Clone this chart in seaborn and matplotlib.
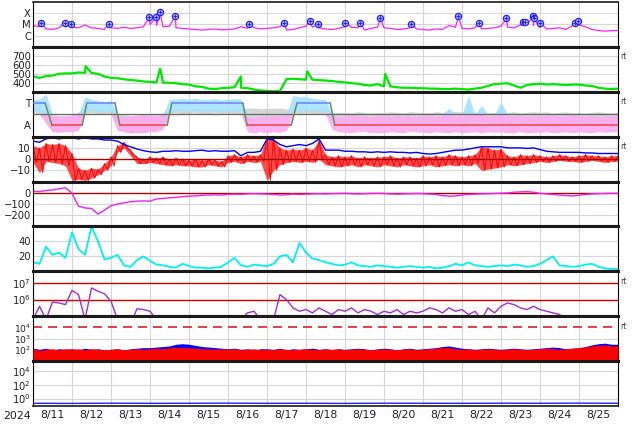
import numpy as np
import matplotlib
matplotlib.use('Agg')
import matplotlib.pyplot as plt
from matplotlib.ticker import NullLocator
import seaborn as sns

sns.set_theme(style='white')
plt.rcParams['font.family'] = ['DejaVu Sans']

# time grid: days since 2024-08-11 00:00, every 4 hours
t = np.arange(91) / 6.0
day_labels = ['8/11', '8/12', '8/13', '8/14', '8/15', '8/16', '8/17', '8/18',
              '8/19', '8/20', '8/21', '8/22', '8/23', '8/24', '8/25']

# X-ray flux (log10 W/m2) background and flare peaks
xray_log = [-5.10, -5.20, -5.40, -5.45, -5.30, -5.22,
            -5.25, -5.30, -5.05, -5.30, -5.35, -5.45,
            -5.30, -5.35, -5.25, -5.35, -5.30, -5.20,
            -5.00, -5.10, -5.20, -5.15, -5.30, -5.35,
            -5.40, -5.45, -5.50, -5.45, -5.40, -5.48,
            -5.45, -5.40, -5.20, -5.35, -5.30, -5.40,
            -5.35, -5.30, -5.20, -5.50, -5.45, -5.30,
            -5.15, -5.25, -5.30, -5.40, -5.45, -5.35,
            -5.20, -5.25, -5.30, -5.50, -5.35, -5.25,
            -5.30, -5.35, -5.45, -5.40, -5.30, -5.40,
            -5.45, -5.50, -5.40, -5.45, -5.10, -5.25,
            -5.35, -5.40, -5.30, -5.40, -5.35, -5.30,
            -5.15, -5.25, -5.30, -5.05, -5.00, -5.10,
            -5.30, -5.40, -5.35, -5.30, -5.45, -5.10,
            -5.05, -5.20, -5.45, -5.55, -5.60, -5.55, -5.55]
flare_t = [0.21, 0.83, 0.98, 1.96, 2.98, 3.16, 3.26, 3.65, 5.55, 6.44, 7.09, 7.32, 8.01,
           8.39, 8.91, 9.70, 10.91, 11.44, 12.14, 12.57, 12.62, 12.83, 12.84, 13.01,
           13.90, 13.98]
flare_log = [-4.83, -4.83, -4.92, -4.92, -4.38, -4.38, -3.93, -4.26, -4.92, -4.83, -4.65,
             -4.92, -4.83, -4.83, -4.47, -4.92, -4.26, -4.83, -4.47, -4.77, -4.77, -4.26,
             -4.47, -4.83, -4.83, -4.71]

# solar wind speed (km/s)
speed = [470, 455, 475, 480, 500, 505,
         505, 515, 510, 510, 500, 470,
         455, 450, 440, 430, 425, 415,
         410, 405, 402, 400, 395, 385,
         380, 360, 355, 335, 330, 340,
         345, 350, 345, 340, 325, 315,
         310, 305, 310, 440, 445, 440,
         435, 435, 430, 425, 420, 410,
         405, 395, 390, 375, 370, 385,
         360, 360, 350, 345, 345, 340,
         340, 335, 335, 330, 330, 335,
         330, 325, 335, 345, 365, 385,
         390, 395, 370, 345, 375, 385,
         390, 380, 385, 380, 375, 380,
         380, 370, 365, 345, 335, 330, 335]
speed_spike_t = [1.35, 3.26, 5.33, 7.03, 9.03]
speed_spike_v = [585, 558, 470, 528, 500]

# IMF direction (deg): envelope of main data and of secondary (grey) data
phi_lo = [210, 200, 120, 40, 35, 40, 40, 50, 200, 210, 205, 200,
          200, 50, 40, 30, 35, 30, 40, 40, 60, 200, 210, 205,
          205, 210, 200, 210, 205, 200, 210, 205, 195, 40, 30, 40,
          30, 40, 35, 50, 210, 205, 210, 205, 210, 200, 60, 40,
          35, 30, 40, 45, 30, 35, 30, 40, 35, 30, 45, 40,
          35, 30, 40, 35, 30, 40, 30, 35, 40, 30, 40, 35,
          40, 30, 35, 40, 30, 35, 35, 40, 30, 35, 40, 30,
          40, 35, 30, 40, 35, 40, 40]
phi_hi = [300, 300, 340, 170, 160, 165, 170, 180, 320, 300, 290, 280,
          290, 170, 160, 165, 170, 175, 170, 165, 175, 300, 300, 310,
          300, 310, 295, 300, 305, 295, 300, 305, 300, 160, 150, 165,
          160, 170, 165, 175, 330, 320, 320, 310, 300, 300, 170, 160,
          160, 175, 165, 170, 160, 170, 170, 160, 175, 165, 170, 160,
          165, 170, 160, 175, 230, 165, 170, 330, 175, 250, 165, 170,
          280, 170, 165, 175, 160, 170, 165, 170, 175, 165, 170, 175,
          170, 165, 170, 160, 165, 170, 165]
phi2_lo = [190, 185, 100, 40, 40, 45, 50, 60, 185, 190, 185, 180,
           180, 60, 40, 30, 30, 40, 50, 50, 80, 185, 190, 185,
           185, 190, 180, 185, 190, 185, 185, 185, 180, 120, 130, 130,
           130, 130, 140, 140, 190, 185, 190, 185, 185, 180, 120, 115,
           115, 120, 110, 120, 115, 110, 110, 115, 120, 110, 115, 120,
           115, 110, 120, 115, 110, 100, 20, 110, 115, 120, 110, 115,
           110, 115, 20, 110, 120, 115, 115, 110, 115, 120, 110, 115,
           110, 115, 120, 110, 115, 115, 115]
phi2_hi = [230, 230, 200, 175, 170, 170, 175, 200, 230, 225, 225, 220,
           215, 190, 180, 170, 175, 180, 180, 175, 190, 220, 225, 220,
           225, 220, 225, 220, 225, 220, 225, 225, 220, 230, 230, 225,
           225, 230, 230, 220, 225, 220, 225, 220, 225, 220, 195, 195,
           195, 190, 200, 195, 190, 195, 190, 200, 195, 190, 200, 195,
           195, 190, 200, 195, 210, 200, 200, 210, 195, 200, 190, 195,
           200, 195, 200, 190, 195, 200, 195, 200, 190, 195, 200, 190,
           195, 190, 195, 200, 195, 190, 195]
sector_t = [0, 0.31, 0.49, 1.26, 1.38, 2.10, 2.23, 3.44, 3.56, 5.38, 5.49, 6.62, 6.77,
            7.62, 7.74, 15]
sector_s = ['T', 'T', 'A', 'A', 'T', 'T', 'A', 'A', 'T', 'T', 'A', 'A', 'T', 'T', 'A', 'A']

# IMF Bt and Bz (nT); Bz given as the high / low reading of each 4-hour bin
bt = [16, 15, 18, 19, 18, 19, 19, 18, 19, 18, 18, 17,
      17, 16, 13, 11, 9, 7.5, 6.5, 6, 7, 7, 7.5, 7,
      7, 7.5, 8, 7, 7.5, 7, 7, 7.5, 3, 6, 6, 7,
      18, 17, 13, 11, 12, 13, 12, 14, 18, 8, 8, 8,
      7, 7, 6.5, 6.5, 6, 6.5, 6, 6.5, 6, 6, 5.5, 6,
      5, 4.5, 5, 6, 7, 8, 8, 9, 10, 11, 11, 11,
      11, 10, 10, 10, 9.5, 10, 8.5, 7, 6.5, 6, 6, 6,
      6, 5.5, 5.5, 5, 5, 5, 5]
bz_lo = [-3, -12, -2, -3, -4, -6, -19, -18, -19, -17, -14, -10,
         -6, 6, 10, 3, -4, -4, -3, -4, -5, -6, -5, -6,
         -6, -7, -7, -5, -6, -7, -3, -2, -4, -2, -3, -2,
         -19, -10, -5, -3, -2, -3, -2, -3, 0, -5, -6, -7,
         -6, -5, -7, -5, -6, -7, -5, -6, -7, -5, -6, -7,
         -6, -5, -7, -6, -5, -6, -5, -6, -4, -10, -9, -8,
         -7, -5, -6, -5, -4, -3, -2, -3, -2, -1, -2, -2,
         -3, -2, -1, -2, -3, -2, -2]
bz_hi = [12, 10, 14, 13, 14, 12, 5, -8, -10, -8, -9, -4,
         2, 12, 15, 8, 2, 0, 2, 1, 2, 0, 1, 0,
         -1, 0, -1, 0, -1, -2, 3, 4, 2, 4, 3, 4,
         20, 18, 10, 8, 9, 8, 10, 8, 17, 4, 2, 3,
         2, 3, 1, 2, 1, 2, 2, 3, 1, 2, 2, 1,
         3, 2, 3, 2, 4, 3, 2, 3, 4, 11, 10, 8,
         9, 3, 2, 4, 3, 4, 3, 2, 3, 4, 3, 2,
         3, 4, 3, 3, 2, 3, 3]

# Dst (nT)
dst = [15, 10, 20, 25, 35, 45, -5, -120, -135, -140, -190, -155,
       -115, -100, -90, -80, -75, -72, -75, -55, -50, -45, -40, -35,
       -30, -28, -22, -20, -18, -20, -15, -12, -14, -10, -8, -10,
       -12, -15, -20, -18, -12, -15, -12, -10, -8, -10, -8, -6,
       -5, -8, -10, -8, -6, -5, -6, -10, -12, -10, -8, -6,
       -8, -12, -15, -25, -30, -28, -20, -15, -12, -10, -8, -6,
       -4, -2, 5, 8, 10, 5, -5, -10, -15, -20, -25, -28,
       -22, -15, -10, -8, -6, -5, -5]

# solar wind density (/cc)
dens = [12, 10, 33, 22, 25, 18, 52, 30, 22, 60, 40, 16,
        18, 22, 8, 6, 15, 20, 14, 9, 8, 6, 5, 10,
        7, 5, 5, 4, 5, 6, 12, 18, 8, 6, 9, 8,
        7, 10, 20, 22, 12, 38, 25, 17, 15, 12, 10, 8,
        9, 12, 8, 7, 6, 8, 7, 6, 5, 6, 7, 6,
        5, 6, 4, 5, 7, 10, 8, 12, 8, 7, 6, 7,
        8, 7, 9, 8, 6, 7, 10, 15, 20, 8, 7, 6,
        7, 9, 10, 6, 4, 3, 3]

# GEO electron flux (log10)
elec_log = [4.8, 5.6, 4.8, 5.85, 5.8, 5.7, 6.55, 6.3, 4.8, 6.7, 6.5, 6.35,
            5.9, 4.8, 4.5, 4.5, 5.45, 5.4, 5.3, 4.8, 4.5, 4.5, 4.5, 4.8,
            4.5, 4.5, 4.8, 4.5, 4.5, 4.5, 4.5, 4.5, 4.8, 5.2, 5.3, 4.8,
            4.5, 4.8, 6.3, 6.0, 5.5, 5.3, 5.4, 5.2, 5.5, 5.3, 5.1, 5.4,
            5.3, 5.5, 5.2, 5.4, 5.3, 5.1, 5.3, 5.2, 5.4, 5.1, 5.3, 5.2,
            5.3, 5.5, 5.4, 5.2, 5.5, 5.3, 5.4, 5.1, 5.3, 4.8, 5.5, 5.2,
            5.6, 5.8, 5.7, 5.5, 5.4, 5.6, 5.4, 5.3, 5.2, 5.1, 4.8, 4.5,
            4.8, 4.5, 4.5, 4.5, 4.5, 4.5, 4.5]

# GEO proton flux (log10), two channels
prot_blue = [2.15, 2.05, 2.15, 2.0, 2.1, 2.05, 2.1, 2.0, 2.15, 2.05, 2.1, 2.0,
             2.05, 2.1, 2.0, 2.1, 2.15, 2.2, 2.2, 2.25, 2.3, 2.35, 2.5, 2.55,
             2.5, 2.4, 2.3, 2.25, 2.2, 2.15, 2.1, 2.15, 2.05, 2.1, 2.0, 2.1,
             2.1, 2.05, 2.15, 2.0, 2.1, 2.05, 2.1, 2.15, 2.05, 2.1, 2.0, 2.1,
             2.05, 2.1, 2.15, 2.1, 2.0, 2.1, 2.15, 2.1, 2.0, 2.1, 2.15, 2.05,
             2.1, 2.15, 2.2, 2.3, 2.35, 2.25, 2.15, 2.1, 2.05, 2.1, 2.15, 2.1,
             2.05, 2.1, 2.15, 2.1, 2.05, 2.1, 2.15, 2.2, 2.25, 2.2, 2.1, 2.15,
             2.2, 2.3, 2.45, 2.55, 2.6, 2.5, 2.5]
prot_red = [2.1, 1.95, 2.05, 2.1, 2.0, 2.1, 2.05, 2.1, 2.0, 2.1, 2.05, 2.0,
            2.05, 2.1, 2.0, 2.05, 2.1, 2.05, 2.1, 2.15, 2.1, 2.2, 2.25, 2.2,
            2.2, 2.15, 2.1, 2.1, 2.05, 2.1, 2.05, 2.1, 2.0, 2.05, 2.1, 2.0,
            2.05, 2.0, 2.1, 2.05, 2.0, 2.05, 2.1, 2.05, 2.0, 2.1, 2.05, 2.1,
            2.0, 2.05, 2.1, 2.05, 2.0, 2.05, 2.1, 2.05, 2.0, 2.05, 2.1, 2.0,
            2.05, 2.1, 2.15, 2.2, 2.2, 2.1, 2.05, 2.1, 2.0, 2.05, 2.1, 2.05,
            2.0, 2.05, 2.1, 2.05, 2.0, 2.05, 2.1, 2.15, 2.1, 2.05, 2.1, 2.15,
            2.2, 2.25, 2.35, 2.4, 2.45, 2.35, 2.35]

# bottom panel (log10), daily
low_t = np.arange(16)
low_log = [-0.70, -0.72, -0.69, -0.71, -0.70, -0.68, -0.71, -0.70,
           -0.72, -0.69, -0.70, -0.71, -0.69, -0.70, -0.68, -0.70]

GRID = '#d6d6d6'
FS = 7.2

fig = plt.figure(figsize=(6.34, 4.24), dpi=100)
axes = fig.subplots(9, 1, sharex=True)
fig.subplots_adjust(left=33 / 634, right=618 / 634, top=1 - 2 / 424, bottom=1 - 406 / 424,
                    hspace=0)


def style(ax, ylim, ticks, labels=None, grid=None, log=False, fs=FS):
    if log:
        ax.set_yscale('log')
    ax.set_ylim(*ylim)
    ax.set_yticks(ticks)
    if labels is not None:
        ax.set_yticklabels(labels)
    ax.yaxis.set_minor_locator(NullLocator())
    for y in (ticks if grid is None else grid):
        ax.axhline(y, color=GRID, lw=0.8, zorder=0)
    for d in range(16):
        ax.axvline(d, color=GRID, lw=0.8, zorder=0)
    ax.tick_params(axis='y', length=0, labelsize=fs, pad=1.5, colors='#222222')
    ax.tick_params(axis='x', which='both', length=0)
    for s in ('left', 'right'):
        ax.spines[s].set_linewidth(0.8)
        ax.spines[s].set_color('black')
    for s in ('top', 'bottom'):
        ax.spines[s].set_linewidth(2.2)
        ax.spines[s].set_color('#1a1a1a')


def rt(ax):
    ax.text(1.004, 0.78, 'rt', transform=ax.transAxes, fontsize=5.5, color='#444444',
            ha='left', va='center')


# 1: X-ray
ax = axes[0]
xt = np.concatenate([t, flare_t])
xv = 10 ** np.concatenate([xray_log, flare_log])
sns.lineplot(x=xt, y=xv, ax=ax, color='#ff22ff', lw=0.9, estimator=None, sort=True)
ax.scatter(flare_t, 10 ** np.array(flare_log), s=20, facecolor='#b8b8ff',
           edgecolor='#2222ff', linewidth=0.9, zorder=4)
ax.scatter(flare_t, 10 ** np.array(flare_log), s=8, marker='+', color='#2222ff',
           linewidth=0.7, zorder=5)
style(ax, (1e-7, 1e-3), [1e-4, 1e-5, 1e-6], ['X', 'M', 'C'], log=True)
ax.spines['top'].set_linewidth(1.2)

# 2: solar wind speed
ax = axes[1]
st = np.concatenate([t, speed_spike_t])
sv = np.concatenate([speed, speed_spike_v])
sns.lineplot(x=st, y=sv, ax=ax, color='#00e600', lw=1.6, estimator=None, sort=True)
style(ax, (300, 800), [400, 500, 600, 700])
rt(ax)

# 3: IMF direction / sector
ax = axes[2]
lo, hi = np.array(phi2_lo), np.array(phi2_hi)
ax.fill_between(t, lo, hi, color='#c4c4c4', lw=0, alpha=0.7, zorder=1)
lo, hi = np.array(phi_lo), np.array(phi_hi)
ax.fill_between(t, np.clip(lo, 180, None), np.clip(hi, 180, None), color='#a4e2ff',
                lw=0, alpha=0.9, zorder=2)
ax.fill_between(t, np.clip(lo, None, 180), np.clip(hi, None, 180), color='#ffaaf0',
                lw=0, alpha=0.9, zorder=2)
ax.axhline(180, color='#666666', lw=0.9, zorder=3)
sec_v = [270 if s == 'T' else 90 for s in sector_s]
for i in range(len(sector_t) - 1):
    if sector_s[i] == sector_s[i + 1]:
        c = '#6f7fff' if sector_s[i] == 'T' else '#ee4444'
    else:
        c = '#5f8f5f'
    ax.plot(sector_t[i:i + 2], sec_v[i:i + 2], color=c, lw=1.1, zorder=4)
style(ax, (0, 360), [270, 90], ['T', 'A'], grid=[])
rt(ax)

# 4: Bt / Bz
ax = axes[3]
ax.fill_between(t, bz_lo, bz_hi, color='#ff1010', lw=0, alpha=0.75, zorder=2)
bz_t = np.column_stack([t, t + 1 / 12]).ravel()
bz_v = np.column_stack([bz_hi, bz_lo]).ravel()
sns.lineplot(x=bz_t, y=bz_v, ax=ax, color='#ff0000', lw=0.7, estimator=None, sort=False)
sns.lineplot(x=t, y=bt, ax=ax, color='#0000ff', lw=1.0, estimator=None)
ax.axhline(0, color='#aa0000', lw=1.0, zorder=3)
style(ax, (-20, 20), [10, 0, -10], grid=[10, -10])
rt(ax)

# 5: Dst
ax = axes[4]
sns.lineplot(x=t, y=dst, ax=ax, color='#ee22ee', lw=1.0, estimator=None)
ax.axhline(0, color='#aa0000', lw=1.0, zorder=1)
style(ax, (-300, 100), [0, -100, -200], grid=[-100, -200])

# 6: density
ax = axes[5]
sns.lineplot(x=t, y=dens, ax=ax, color='#00f0f0', lw=1.3, estimator=None)
style(ax, (0, 60), [40, 20])

# 7: electrons
ax = axes[6]
sns.lineplot(x=t, y=10 ** np.array(elec_log), ax=ax, color='#a030d0', lw=1.0,
             estimator=None)
style(ax, (1e5, 10 ** 7.7), [1e7, 1e6], log=True)
for y in (1e6, 1e7):
    ax.axhline(y, color='#cc0000', lw=1.0, zorder=1)
rt(ax)

# 8: protons
ax = axes[7]
ax.fill_between(t, 10 ** 1.05, 10 ** np.array(prot_blue), color='#0000ff', lw=0, zorder=2)
ax.fill_between(t, 10 ** 1.05, 10 ** np.array(prot_red), color='#ff0000', lw=0, zorder=3)
style(ax, (10, 1e5), [1e4, 1e3, 1e2], grid=[1e3, 1e2], log=True, fs=6.6)
ax.axhline(1e4, color='#dd2222', lw=1.2, dashes=(5.4, 3.6), zorder=1)
rt(ax)

# 9: bottom panel
ax = axes[8]
sns.lineplot(x=low_t, y=10 ** np.array(low_log), ax=ax, color='#2020ff', lw=1.0,
             estimator=None)
style(ax, (10 ** -1.1, 10 ** 5.5), [1e4, 1e2, 1e0], grid=[1e4, 1e2, 1e0], log=True)
ax.spines['bottom'].set_linewidth(1.2)

ax.set_xlim(0, 15)
ax.set_xticks(np.arange(16))
ax.set_xticklabels([''] * 16)
ax.set_xticks(np.arange(15) + 0.5, minor=True)
ax.set_xticklabels(day_labels, minor=True, fontsize=7.8)
ax.tick_params(axis='x', which='minor', pad=3, colors='#222222')
fig.text(17 / 634, 1 - 416 / 424, '2024', fontsize=7.8, ha='center', va='center',
         color='#222222')

for a in axes:
    a.set_xlabel('')
    a.set_ylabel('')

fig.savefig('out.png', dpi=100)
